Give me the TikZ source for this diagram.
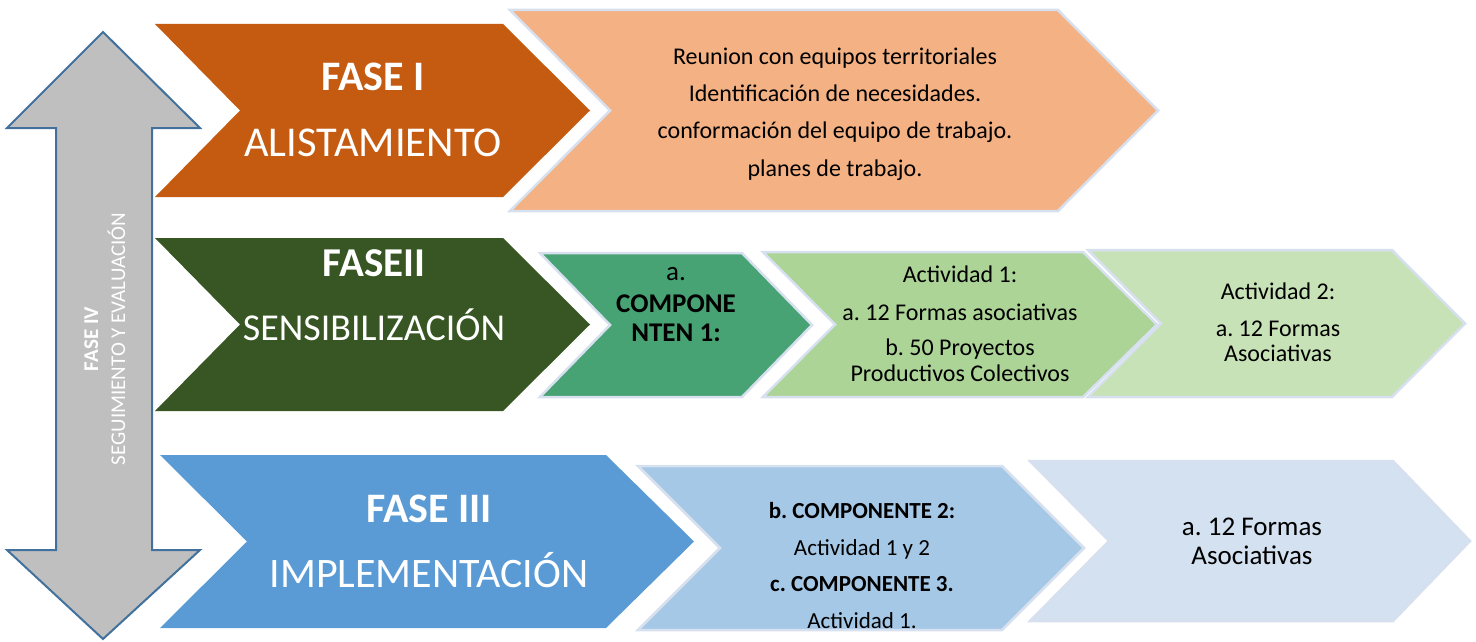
\documentclass[tikz,border=0pt]{standalone}
\usepackage{fontspec}
\setmainfont{Carlito}
\frenchspacing
\definecolor{cOrange}{HTML}{C55A11}
\definecolor{cPeach}{HTML}{F4B183}
\definecolor{cDkGreen}{HTML}{375623}
\definecolor{cMdGreen}{HTML}{47A274}
\definecolor{cLtGreenA}{HTML}{ADD497}
\definecolor{cLtGreenB}{HTML}{C8E2B7}
\definecolor{cBlue}{HTML}{5B9BD5}
\definecolor{cLtBlue}{HTML}{A6C8E7}
\definecolor{cLtBlueB}{HTML}{D4E1F0}
\definecolor{cGray}{HTML}{BFBFBF}
\definecolor{cGrayEdge}{HTML}{41719C}
\definecolor{cEdge}{HTML}{D6E0EF}
\begin{document}
\frenchspacing
\begin{tikzpicture}[x=1pt,y=-1pt,
  mainchev/.style={line join=miter},
  secchev/.style={draw=cEdge, line width=2.5pt, line join=miter},
  lbl/.style={inner sep=0pt, anchor=base},
  wlbl/.style={lbl, text=white},
  blbl/.style={lbl, text=black},
  fsz/.style={font=\fontsize{#1}{#1}\selectfont},
  fszb/.style={font=\fontsize{#1}{#1}\selectfont\bfseries},
  fmid/.style={fsz=24},
  fcomp/.style={fsz=27},
  fcompb/.style={fszb=27},
  fsm/.style={fsz=23},
  fsmb/.style={fszb=23},
  fvert/.style={fsz=21},
  fvertb/.style={fszb=21}]
\useasboundingbox (0,0) rectangle (1476,642);

% Fase IV double arrow
\draw[fill=cGray, draw=cGrayEdge, line width=2pt, line join=miter]
  (103,32) -- (200,128) -- (152,128) -- (152,550) -- (200,550) -- (103,639)
  -- (7,550) -- (56,550) -- (56,128) -- (7,128) -- cycle;
\node[wlbl, fvertb, rotate=90] (v1) at (98,339) {FASE IV};
\node[wlbl, fvert, rotate=90] (v2) at (125,339) {SEGUIMIENTO Y EVALUACIÓN};

% Row 1
\fill[mainchev, cOrange] (155,24) -- (503,24) -- (590,110.5) -- (503,197) -- (155,197) -- (240,110.5) -- cycle;
\filldraw[secchev, fill=cPeach] (510,10) -- (1058,10) -- (1158,110.5) -- (1058,211) -- (510,211) -- (610,110.5) -- cycle;
\node[wlbl, fszb=42] (t1a) at (373,91) {FASE I};
\node[wlbl, fsz=42.5] (t1b) at (373,156) {ALISTAMIENTO};
\node[blbl, fmid] (p1) at (835,65) {Reunion con equipos territoriales};
\node[blbl, fmid] (p2) at (835,102) {Identificación de necesidades.};
\node[blbl, fmid] (p3) at (835,139) {conformación del equipo de trabajo.};
\node[blbl, fmid] (p4) at (835,176) {planes de trabajo.};

% Row 2
\fill[mainchev, cDkGreen] (155,238) -- (503,238) -- (590,324.5) -- (503,411) -- (155,411) -- (240,324.5) -- cycle;
\filldraw[secchev, fill=cMdGreen] (540,253) -- (742,253) -- (812,325) -- (742,397) -- (540,397) -- (610,325) -- cycle;
\filldraw[secchev, fill=cLtGreenA] (763,252) -- (1083,252) -- (1157,324.5) -- (1083,397) -- (763,397) -- (835,324.5) -- cycle;
\filldraw[secchev, fill=cLtGreenB] (1088,250) -- (1392,250) -- (1465,323.5) -- (1392,397) -- (1088,397) -- (1161,323.5) -- cycle;
\node[wlbl, fszb=41] (t2a) at (374,276) {FASEII};
\node[wlbl, fsz=38] (t2b) at (374,340) {SENSIBILIZACIÓN};
\node[blbl, fcomp] (m1) at (676,280) {a.};
\node[blbl, fcompb] (m2) at (676,312.5) {COMPONE};
\node[blbl, fcompb] (m3) at (676,341.5) {NTEN 1:};
\node[blbl, fmid] (g1) at (960,282.5) {Actividad 1:};
\node[blbl, fmid] (g2) at (960,320) {a. 12 Formas asociativas};
\node[blbl, fmid] (g3) at (960,355) {b. 50 Proyectos};
\node[blbl, fmid] (g4) at (960,381.5) {Productivos Colectivos};
\node[blbl, fmid] (h1) at (1278,299) {Actividad 2:};
\node[blbl, fmid] (h2) at (1278,336.5) {a. 12 Formas};
\node[blbl, fmid] (h3) at (1278,361.5) {Asociativas};

% Row 3
\fill[mainchev, cBlue] (160,455) -- (606,455) -- (694,541.5) -- (606,628) -- (160,628) -- (247,541.5) -- cycle;
\filldraw[secchev, fill=cLtBlue] (638,466) -- (1002,466) -- (1084,548) -- (1002,630) -- (638,630) -- (720,548) -- cycle;
\filldraw[secchev, fill=cLtBlueB] (1030,461) -- (1393,461) -- (1470,541) -- (1393,621) -- (1030,621) -- (1109,541) -- cycle;
\node[wlbl, fszb=42] (t3a) at (429,522) {FASE III};
\node[wlbl, fsz=42] (t3b) at (429,587) {IMPLEMENTACIÓN};
\node[blbl, fsmb] (b1) at (862,518) {b. COMPONENTE 2:};
\node[blbl, fsm] (b2) at (862,555) {Actividad 1 y 2};
\node[blbl, fsmb] (b3) at (862,591) {c. COMPONENTE 3.};
\node[blbl, fsm] (b4) at (862,628) {Actividad 1.};
\node[blbl, fcomp] (c1) at (1252,535) {a. 12 Formas};
\node[blbl, fcomp] (c2) at (1252,564) {Asociativas};
\end{tikzpicture}
\end{document}
